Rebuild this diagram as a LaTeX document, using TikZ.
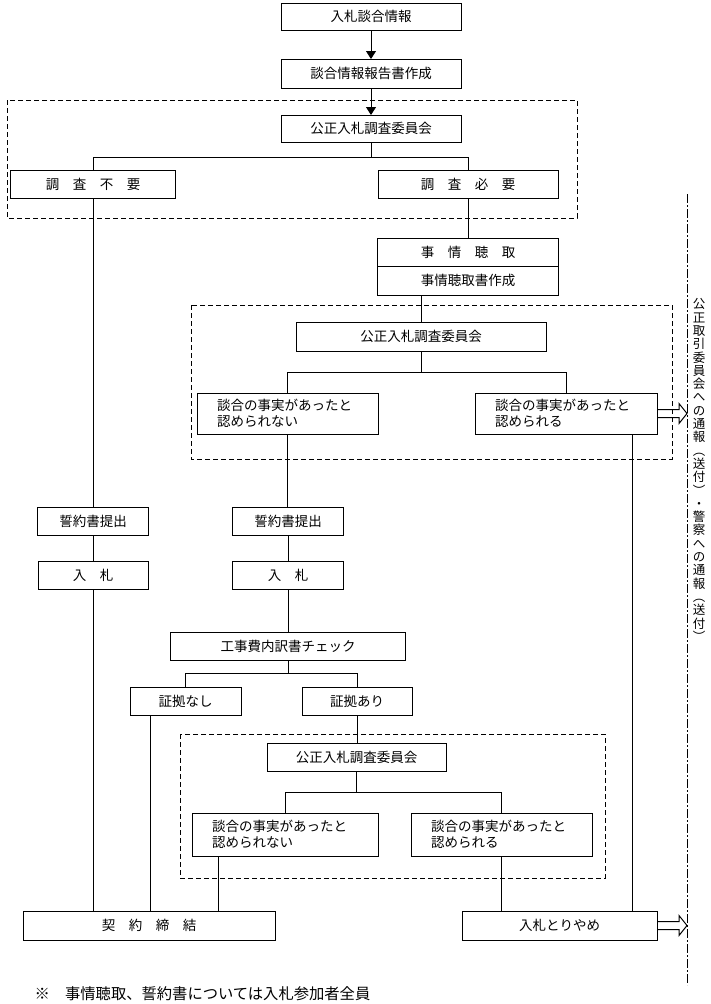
\documentclass[tikz,border=0pt]{standalone}
\usepackage{fontspec}
\newfontfamily\jp{Noto Sans CJK JP}
\usetikzlibrary{arrows.meta}

\tikzset{
    box/.style={draw, inner sep=0pt, outer sep=0pt, minimum height=28pt, font=\jp\fontsize{13.5}{16.5}\selectfont},
    twoline/.style={box, align=left, inner xsep=20pt},
    panel/.style={dash pattern=on 5pt off 3pt},
}

% hollow arrow out of a box, to the right
\def\outarrow#1{\draw (#1.east) ++(0,-4) -- ++(22,0) -- ++(0,-6) -- ++(8,10) -- ++(-8,10) -- ++(0,-6) -- ++(-22,0);}

\begin{document}
\begin{tikzpicture}[x=1pt, y=-1pt, line width=1pt, >={Triangle[length=8pt,width=10pt]}]
    \useasboundingbox (0,0) rectangle (711,1004);

    % Top
    \node[box, minimum width=180pt, minimum height=27pt] (info) at (371,16.5) {入札談合情報};
    \node[box, minimum width=180pt, minimum height=29pt] (report) at (371,73.5) {談合情報報告書作成};
    \draw[->] (info.south) -- (report.north);

    % First committee
    \draw[panel] (7,100) rectangle (577,218);
    \node[box, minimum width=180pt, minimum height=27pt] (comm1) at (371,128.5) {公正入札調査委員会};
    \draw[->] (report.south) -- (comm1.north);
    \node[box, minimum width=165pt] (nosurvey) at (93,184) {調　査　不　要};
    \node[box, minimum width=180pt] (survey) at (468,184) {調　査　必　要};
    \draw (comm1.south) -- ++(0,15) -| (nosurvey.north);
    \draw (comm1.south) -- ++(0,15) -| (survey.north);

    % Hearing
    \node[box, minimum width=181pt] (hearing) at (468,252) {事　情　聴　取};
    \node[box, minimum width=181pt, minimum height=29pt, anchor=north] (hearingdoc) at (hearing.south) {事情聴取書作成};
    \draw (survey.south) -- (hearing.north);

    % Second committee
    \draw[panel] (191,305) rectangle (672,459);
    \node[box, minimum width=250pt, minimum height=29pt] (comm2) at (421,336.5) {公正入札調査委員会};
    \draw (hearingdoc.south -| comm2.north) -- (comm2.north);
    \node[twoline, text width=141pt, minimum height=41pt] (notfound2) at (287.5,413.5) {談合の事実があったと\\認められない};
    \node[twoline, text width=142pt, minimum height=41pt] (found2) at (566,413.5) {談合の事実があったと\\認められる};
    \draw (comm2.south) -- ++(0,21) -| (notfound2.north);
    \draw (comm2.south) -- ++(0,21) -| (found2.north);
    \outarrow{found2}

    % Pledge and bid
    \node[box, minimum width=111pt] (pledge1) at (93,521) {誓約書提出};
    \node[box, minimum width=111pt] (pledge2) at (288,521) {誓約書提出};
    \node[box, minimum width=110pt] (bid1) at (93,575) {入　札};
    \node[box, minimum width=111pt] (bid2) at (288,575) {入　札};
    \draw (nosurvey.south) -- (pledge1.north);
    \draw (notfound2.south) -- (notfound2.south |- pledge2.north);
    \draw (pledge1) -- (bid1);
    \draw (pledge2) -- (bid2);

    % Cost check
    \node[box, minimum width=235pt] (check) at (288,646) {工事費内訳書チェック};
    \draw (bid2.south) -- (check.north);
    \node[box, minimum width=111pt] (noproof) at (185.5,701) {証拠なし};
    \node[box, minimum width=110pt] (proof) at (357,701) {証拠あり};
    \draw (check.south) -- ++(0,13) -| (noproof.north);
    \draw (check.south) -- ++(0,13) -| (proof.north);

    % Third committee
    \draw[panel] (180,734) rectangle (605,878);
    \node[box, minimum width=179pt] (comm3) at (356.5,757) {公正入札調査委員会};
    \draw (proof.south) -- (proof.south |- comm3.north);
    \node[twoline, text width=146pt, minimum height=43pt] (notfound3) at (285,834.5) {談合の事実があったと\\認められない};
    \node[twoline, text width=141pt, minimum height=43pt] (found3) at (501.5,834.5) {談合の事実があったと\\認められる};
    \draw (comm3.south) -- ++(0,21) -| (notfound3.north);
    \draw (comm3.south) -- ++(0,21) -| (found3.north);

    % Outcome
    \node[box, minimum width=252pt, minimum height=29pt] (contract) at (149,925.5) {契　約　締　結};
    \node[box, minimum width=195pt, minimum height=29pt] (cancel) at (559.5,925.5) {入札とりやめ};
    \coordinate (dropA) at (150,0);
    \coordinate (dropB) at (218,0);
    \coordinate (dropC) at (632,0);
    \draw (bid1.south) -- (contract.north -| bid1.south);
    \draw (noproof.south -| dropA) -- (contract.north -| dropA);
    \draw (notfound3.south -| dropB) -- (contract.north -| dropB);
    \draw (found3.south) -- (cancel.north -| found3.south);
    \draw (found2.south -| dropC) -- (cancel.north -| dropC);
    \outarrow{cancel}

    % Report to the commission and police
    \draw[dash pattern=on 9pt off 2pt on 2pt off 2pt] (687,194) -- (687,985);
    \node[font=\jp\fontsize{12.5}{13.3}\selectfont, align=center, inner sep=0pt] (notice) at (699,470)
        {公\\正\\取\\引\\委\\員\\会\\へ\\の\\通\\報\\︵\\送\\付\\︶\\・\\警\\察\\へ\\の\\通\\報\\︵\\送\\付\\︶};

    % Note
    \node[font=\jp\fontsize{15.3}{17}\selectfont, anchor=west, inner sep=0pt] (remark) at (34,994) {※　事情聴取、誓約書については入札参加者全員};
\end{tikzpicture}
\end{document}
